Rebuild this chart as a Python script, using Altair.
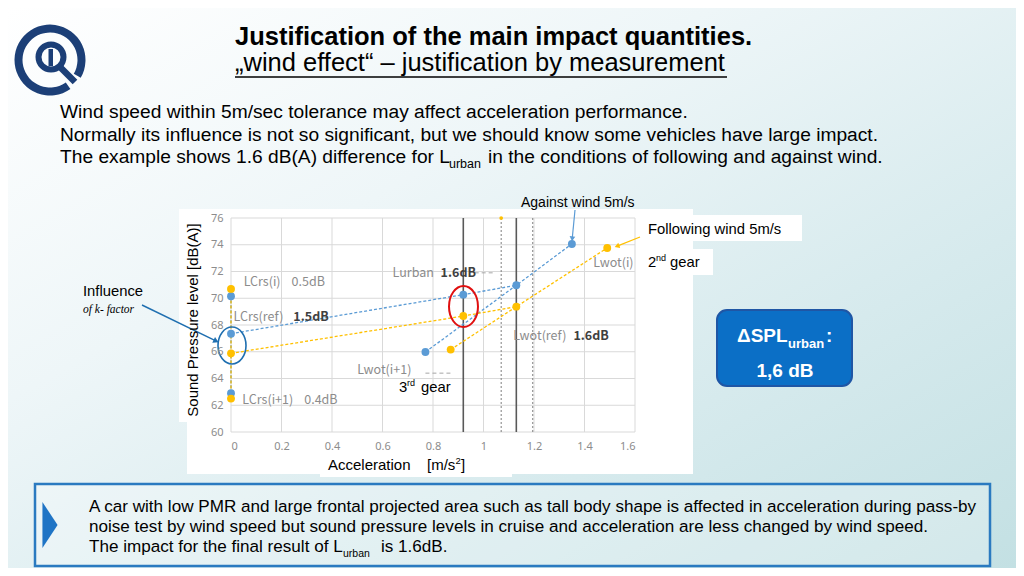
import math
import altair as alt
import pandas as pd

# ------------------------------------------------------------------ data
x_ticks = [0, 0.2, 0.4, 0.6, 0.8, 1.0, 1.2, 1.4, 1.6]
y_ticks = [60, 62, 64, 66, 68, 70, 72, 74, 76]

series_names = ["Against wind 5m/s", "Following wind 5m/s"]
series_colors = ["#5b9bd5", "#ffc000"]

# cruise levels at a = 0 : LCrs(i+1), LCrs(ref), LCrs(i)
against_crs = [62.9, 67.35, 70.15]
following_crs = [62.5, 65.88, 70.7]
# Lurban point (acceleration, level)
against_urban = [0.92, 70.27]
following_urban = [0.92, 68.67]
# wide open throttle : Lwot(i+1), Lwot(ref), Lwot(i)
against_wot_a = [0.77, 1.13, 1.35]
against_wot_l = [65.98, 70.97, 74.06]
following_wot_a = [0.87, 1.13, 1.49]
following_wot_l = [66.16, 69.37, 73.76]

a_ref_solid = [0.92, 1.13]
a_ref_dotted = [1.07, 1.195]
extra_point_a = [1.07]
extra_point_l = [76.0]

leader_a1 = [0.965, 0.77]
leader_a2 = [1.045, 0.87]
leader_l = [71.9, 64.4]

label_text = ["LCrs(i)", "0.5dB", "LCrs(ref)", "1.5dB", "LCrs(i+1)", "0.4dB",
              "Lurban", "1.6dB", "Lwot(ref)", "1.6dB", "Lwot(i)", "Lwot(i+1)"]
label_a = [0.05, 0.24, 0.01, 0.247, 0.045, 0.29, 0.64, 0.83, 1.118, 1.356, 1.435, 0.5]
label_l = [71.2, 71.2, 68.57, 68.57, 62.4, 62.4, 71.9, 71.9, 67.18, 67.18, 72.64, 64.66]
label_bold = [False, False, False, True, False, False, False, True, False, True, False, False]

# ------------------------------------------------------------------ tables
line_rows, point_rows = [], []
for name, crs, urb, wa, wl in [
    (series_names[0], against_crs, against_urban, against_wot_a, against_wot_l),
    (series_names[1], following_crs, following_urban, following_wot_a, following_wot_l),
]:
    for k, v in enumerate(crs):
        line_rows.append(dict(series=name, path=name + "crs", ord=k, a=0.0, l=v))
        point_rows.append(dict(series=name, a=0.0, l=v))
    ref = [(0.0, crs[1]), (urb[0], urb[1]), (wa[1], wl[1])]
    for k, (a, l) in enumerate(ref):
        line_rows.append(dict(series=name, path=name + "ref", ord=k, a=a, l=l))
    point_rows.append(dict(series=name, a=urb[0], l=urb[1]))
    for k, (a, l) in enumerate(zip(wa, wl)):
        line_rows.append(dict(series=name, path=name + "wot", ord=k, a=a, l=l))
        point_rows.append(dict(series=name, a=a, l=l))
lines_df = pd.DataFrame(line_rows)
points_df = pd.DataFrame(point_rows)
labels_df = pd.DataFrame(dict(t=label_text, a=label_a, l=label_l, b=label_bold))

# ------------------------------------------------------------------ scales
W, H = 404, 214
OX, OY = 231, 218  # page position of the plot origin
XS = alt.Scale(domain=[0, 1.6], nice=False, zero=False)
YS = alt.Scale(domain=[60, 76], nice=False, zero=False)
XAX = alt.Axis(values=x_ticks, format="~g", title=None, grid=False, domain=False, ticks=False,
               labelPadding=8, labelFontSize=11, labelColor="#8c8c8c", labelFont="Noto Sans", zindex=1)
YAX = alt.Axis(values=y_ticks, format="~g", title=None, grid=False, domain=False, ticks=False,
               labelPadding=8, labelFontSize=11, labelColor="#8c8c8c", labelFont="Noto Sans", zindex=1)
COL = alt.Color("series:N", scale=alt.Scale(domain=series_names, range=series_colors), legend=None)

one = pd.DataFrame({"k": [0]})


def X(f):
    return alt.X(f, scale=XS, axis=XAX)


def Y(f):
    return alt.Y(f, scale=YS, axis=YAX)


def txt(s, x, y, size, color="#000000", weight="normal", font="Liberation Sans", align="left",
        baseline="alphabetic", **kw):
    return alt.Chart(one).mark_text(text=s, fontSize=size, color=color, fontWeight=weight, font=font,
                                    align=align, baseline=baseline, **kw).encode(
        x=alt.value(x - OX), y=alt.value(y - OY))


def box(x1, y1, x2, y2, **kw):
    return alt.Chart(one).mark_rect(**kw).encode(
        x=alt.value(x1 - OX), x2=alt.value(x2 - OX), y=alt.value(y1 - OY), y2=alt.value(y2 - OY))


def seg(x1, y1, x2, y2, **kw):
    return alt.Chart(one).mark_rule(**kw).encode(
        x=alt.value(x1 - OX), x2=alt.value(x2 - OX), y=alt.value(y1 - OY), y2=alt.value(y2 - OY))


def sym(x, y, shape, size, **kw):
    return alt.Chart(one).mark_point(shape=shape, size=size, **kw).encode(
        x=alt.value(x - OX), y=alt.value(y - OY))


def arrow(x1, y1, x2, y2, color, width=1.2, head=32):
    ang = math.degrees(math.atan2(x2 - x1, -(y2 - y1))) % 360
    d = math.hypot(x2 - x1, y2 - y1)
    cx = x2 - (x2 - x1) / d * 3
    cy = y2 - (y2 - y1) / d * 3
    return [seg(x1, y1, cx, cy, color=color, strokeWidth=width),
            sym(cx, cy, "triangle", head, filled=True, color=color, opacity=1, angle=ang)]


layers = []
# background
grad = {"gradient": "linear", "x1": 0, "y1": 0, "x2": 1, "y2": 1,
        "stops": [{"offset": 0, "color": "#ffffff"}, {"offset": 0.35, "color": "#eef6f8"},
                  {"offset": 0.7, "color": "#d6eaed"}, {"offset": 1, "color": "#c3e0e3"}]}
layers.append(box(8, 8, 1016, 568, color=grad))
# white panels of the pasted chart
for b in [(187, 209, 693, 474), (179, 209, 205, 422), (320, 455, 512, 477),
          (636, 215, 802, 241), (636, 249, 713, 275)]:
    layers.append(box(*b, color="#ffffff"))
# bottom box, chevron, delta box
layers.append(box(35, 484, 990, 566, fill="#ffffff", fillOpacity=0.25, stroke="#2a7ac0", strokeWidth=2.5))
layers.append(sym(50, 525, "M -0.33 -1 L 0.33 0 L -0.33 1 Z", 2116, filled=True, color="#1f74c5", opacity=1))
layers.append(box(717, 310, 852, 386, fill="#0b6fc6", stroke="#1f56a5", strokeWidth=2, cornerRadius=10))

# logo
NAVY = "#1c3f77"
layers.append(alt.Chart(one).mark_arc(theta=2.53, theta2=8.38, radius=35.5, radius2=27.5, color=NAVY)
              .encode(x=alt.value(50 - OX), y=alt.value(60 - OY)))
layers.append(alt.Chart(one).mark_arc(theta=0, theta2=6.2832, radius=15.5, radius2=9.5, color=NAVY)
              .encode(x=alt.value(51 - OX), y=alt.value(57 - OY)))
layers.append(box(48.5, 49, 53, 66, color=NAVY))
layers.append(seg(60, 67, 75, 82, color=NAVY, strokeWidth=6.5))

# grid
layers.append(alt.Chart(pd.DataFrame({"v": x_ticks})).mark_rule(color="#d9d9d9", strokeWidth=1)
              .encode(x=X("v:Q"), y=alt.value(0), y2=alt.value(H)))
layers.append(alt.Chart(pd.DataFrame({"v": y_ticks})).mark_rule(color="#d9d9d9", strokeWidth=1)
              .encode(y=Y("v:Q"), x=alt.value(0), x2=alt.value(W)))
# reference verticals
layers.append(alt.Chart(pd.DataFrame({"v": a_ref_dotted})).mark_rule(color="#7f7f7f", strokeWidth=1, strokeDash=[2, 2])
              .encode(x=X("v:Q"), y=alt.value(0), y2=alt.value(H)))
layers.append(alt.Chart(pd.DataFrame({"v": a_ref_solid})).mark_rule(color="#595959", strokeWidth=1.6)
              .encode(x=X("v:Q"), y=alt.value(0), y2=alt.value(H)))
layers.append(alt.Chart(pd.DataFrame({"a1": leader_a1, "a2": leader_a2, "l": leader_l}))
              .mark_rule(color="#a6a6a6", strokeWidth=1, strokeDash=[4, 3])
              .encode(x=X("a1:Q"), x2="a2:Q", y=Y("l:Q")))
# data
layers.append(alt.Chart(lines_df).mark_line(strokeDash=[3, 2], strokeWidth=1.3)
              .encode(x=X("a:Q"), y=Y("l:Q"), color=COL, detail="path:N", order="ord:Q"))
layers.append(alt.Chart(points_df).mark_circle(size=62, opacity=1)
              .encode(x=X("a:Q"), y=Y("l:Q"), color=COL))
layers.append(alt.Chart(pd.DataFrame({"a": extra_point_a, "l": extra_point_l})).mark_circle(size=14, opacity=1, color="#ffc000")
              .encode(x=X("a:Q"), y=Y("l:Q")))
# in-plot labels
layers.append(alt.Chart(labels_df).transform_filter("!datum.b")
              .mark_text(align="left", baseline="middle", fontSize=12.5, color="#8c8c8c", font="Noto Sans CJK JP")
              .encode(x=X("a:Q"), y=Y("l:Q"), text="t:N"))
layers.append(alt.Chart(labels_df).transform_filter("datum.b")
              .mark_text(align="left", baseline="middle", fontSize=12.5, color="#404040", fontWeight="bold", font="Noto Sans CJK JP")
              .encode(x=X("a:Q"), y=Y("l:Q"), text="t:N"))

# ellipses
layers.append(sym(232, 345.5, "M -0.757 0 A 0.757 1 0 1 1 0.757 0 A 0.757 1 0 1 1 -0.757 0 Z", 1369,
                  filled=False, color="#1f6fb0", strokeWidth=1.6, opacity=1))
layers.append(sym(463.5, 306.5, "M -0.707 0 A 0.707 1 0 1 1 0.707 0 A 0.707 1 0 1 1 -0.707 0 Z", 1681,
                  filled=False, color="#e01010", strokeWidth=2, opacity=1))
# arrows
layers += arrow(575, 210, 572, 241, "#5b9bd5")
layers += arrow(640, 237, 615, 247, "#ffc000")
layers += arrow(142, 305, 218, 342, "#1f6fb0", width=1.4, head=40)

# titles and texts
layers.append(txt("Justification of the main impact quantities.", 235, 44.5, 25.5, weight="bold"))
layers.append(txt("\u201ewind effect\u201c \u2013 justification by measurement", 235, 71, 25.5))
layers.append(seg(235, 77, 727, 77, color="#000000", strokeWidth=1.5))
layers.append(txt("Wind speed within 5m/sec tolerance may affect acceleration performance.", 60, 118, 19.2))
layers.append(txt("Normally its influence is not so significant, but we should know some vehicles have large impact.", 60, 140.5, 19.2))
layers.append(txt("The example shows 1.6 dB(A) difference for L", 60, 163, 19.2))
layers.append(txt("urban", 449, 168, 12.5))
layers.append(txt("in the conditions of following and against wind.", 488, 163, 19.2))

layers.append(txt("A car with low PMR and large frontal projected area such as tall body shape is affected in acceleration during pass-by", 89, 512, 17.1))
layers.append(txt("noise test by wind speed but sound pressure levels in cruise and acceleration are less changed by wind speed.", 89, 532, 17.1))
layers.append(txt("The impact for the final result of L", 89, 552, 17.1))
layers.append(txt("urban", 343, 557, 10.5))
layers.append(txt("is 1.6dB.", 381, 552, 17.1))

layers.append(txt("\u0394SPL", 737, 342, 19, color="#ffffff", weight="bold"))
layers.append(txt("urban", 788, 347.5, 13, color="#ffffff", weight="bold"))
layers.append(txt(":", 826, 342, 19, color="#ffffff", weight="bold"))
layers.append(txt("1,6 dB", 785, 377, 19, color="#ffffff", weight="bold", align="center"))

layers.append(txt("Against wind 5m/s", 521, 207, 14))
layers.append(txt("Following wind 5m/s", 648, 234, 14.8))
layers.append(txt("2", 648, 267, 14.8))
layers.append(txt("nd", 656, 261, 9))
layers.append(txt("gear", 670, 267, 14.8))
layers.append(txt("3", 399, 392, 14.8))
layers.append(txt("rd", 407, 386, 9))
layers.append(txt("gear", 421, 392, 14.8))
layers.append(txt("Influence", 83, 296, 14.8))
layers.append(txt("of k- factor", 83, 312.5, 11.5, font="Liberation Serif", fontStyle="italic"))
layers.append(txt("Sound Pressure level [dB(A)]", 198, 320, 15, align="center", angle=270))
layers.append(txt("Acceleration", 328, 470, 15))
layers.append(txt("[m/s", 427, 470, 15))
layers.append(txt("2", 455.5, 464, 9.5))
layers.append(txt("]", 461, 470, 15))

chart = alt.layer(*layers).properties(
    width=W, height=H,
    padding={"left": OX - 8, "top": OY - 8, "right": 1008 - (OX - 8) - W, "bottom": 560 - (OY - 8) - H},
    autosize=alt.AutoSizeParams(type="none"),
    background="#ffffff",
).configure_view(strokeWidth=0)

chart.save("out.html", embed_options={"renderer": "svg", "actions": False})
